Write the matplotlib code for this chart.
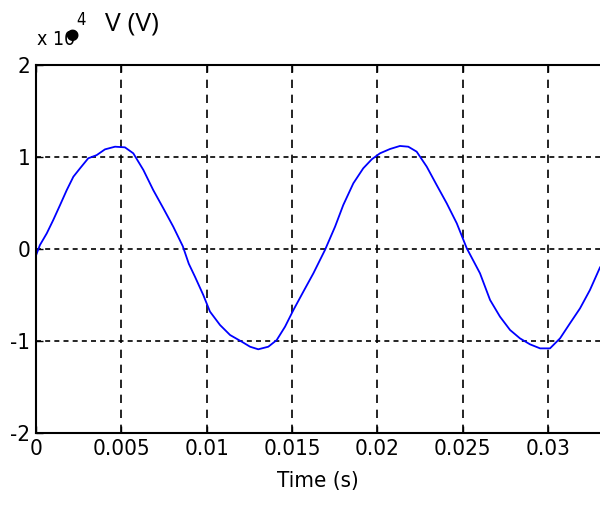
import matplotlib
matplotlib.use("Agg")
import matplotlib.pyplot as plt
from matplotlib import font_manager
import numpy as np

# ---------------- Data ----------------
time_s = [0.0, 0.00023, 0.00063, 0.00101, 0.00141, 0.0018, 0.00219, 0.00258,
          0.00306, 0.00355, 0.00404, 0.00463, 0.00521, 0.0057, 0.00629,
          0.00687, 0.00746, 0.00804, 0.00860, 0.00895, 0.00931, 0.0098,
          0.01019, 0.01078, 0.01137, 0.01205, 0.01254, 0.01302, 0.01361,
          0.0141, 0.01459, 0.01508, 0.01566, 0.01625, 0.01693,
          0.01752, 0.018, 0.01859, 0.01917, 0.01967, 0.02015, 0.02074,
          0.02132, 0.02181, 0.0223, 0.02289, 0.02347, 0.02406, 0.02465,
          0.02523, 0.02601, 0.0266, 0.02718, 0.02777, 0.02835,
          0.02894, 0.02953, 0.03011, 0.0307, 0.03128, 0.03187, 0.03245,
          0.03304]
volts_e4 = [-0.07, 0.043, 0.17, 0.315, 0.478, 0.64, 0.786, 0.877,
            0.986, 1.02, 1.083, 1.112, 1.105, 1.04, 0.859,
            0.64, 0.442, 0.243, 0.03, -0.16, -0.30, -0.50,
            -0.68, -0.826, -0.935, -1.007, -1.062, -1.09, -1.062,
            -0.99, -0.844, -0.663, -0.464, -0.264, -0.01,
            0.243, 0.478, 0.714, 0.877, 0.975, 1.04, 1.087,
            1.12, 1.112, 1.058, 0.895, 0.696, 0.497, 0.279,
            0.01, -0.264, -0.554, -0.735, -0.88, -0.971,
            -1.036, -1.08, -1.08, -0.971, -0.808, -0.645, -0.446,
            -0.20]
x_ticks = [0, 0.005, 0.01, 0.015, 0.02, 0.025, 0.03]
x_labels = ["0", "0.005", "0.01", "0.015", "0.02", "0.025", "0.03"]
y_ticks = [-2, -1, 0, 1, 2]

volts = np.array(volts_e4) * 1e4

# narrow font if one is around, else plain DejaVu condensed
names = {f.name for f in font_manager.fontManager.ttflist}
narrow = [n for n in ["Liberation Sans Narrow", "DejaVu Sans"] if n in names]
tick_font = dict(family=narrow, fontstretch="condensed", fontsize=16)

# ---------------- Figure ----------------
fig = plt.figure(figsize=(6, 5.25), dpi=100, facecolor="white")
ax = fig.add_axes([0.06, 0.1752, 0.94, 0.7010])

ax.plot(time_s, volts, color="#0000ff", linewidth=1.3)

ax.set_xlim(0, 0.03304)
ax.set_ylim(-2e4, 2e4)
ax.set_xticks(x_ticks)
ax.set_xticklabels(x_labels, **tick_font)
ax.set_yticks([v * 1e4 for v in y_ticks])
ax.set_yticklabels([str(v) for v in y_ticks], **tick_font)

ax.tick_params(direction="in", length=5, width=1, top=True, right=False,
               colors="black", pad=4)

ax.xaxis.grid(True, color="black", linestyle=(0, (5, 4)), linewidth=1.2)
ax.yaxis.grid(True, color="black", linestyle=(0, (3, 2.5)), linewidth=1.2)

for side in ["left", "bottom", "top"]:
    ax.spines[side].set_linewidth(1.5)
ax.spines["right"].set_visible(False)

ax.set_xlabel("Time (s)", labelpad=9, **tick_font)

# exponent label, marker dot, and quantity label
fig.text(0.062, 0.924, "x 10", va="center", **{**tick_font, "fontsize": 14})
fig.text(0.127, 0.962, "4", va="center", **{**tick_font, "fontsize": 12})
fig.text(0.12, 0.935, "\u25cf", fontsize=11, va="center", ha="center", color="black")
fig.text(0.175, 0.955, "V (V)", family=["Open Sans", "DejaVu Sans"], fontsize=19, va="center")

fig.savefig("out.png", dpi=100)
